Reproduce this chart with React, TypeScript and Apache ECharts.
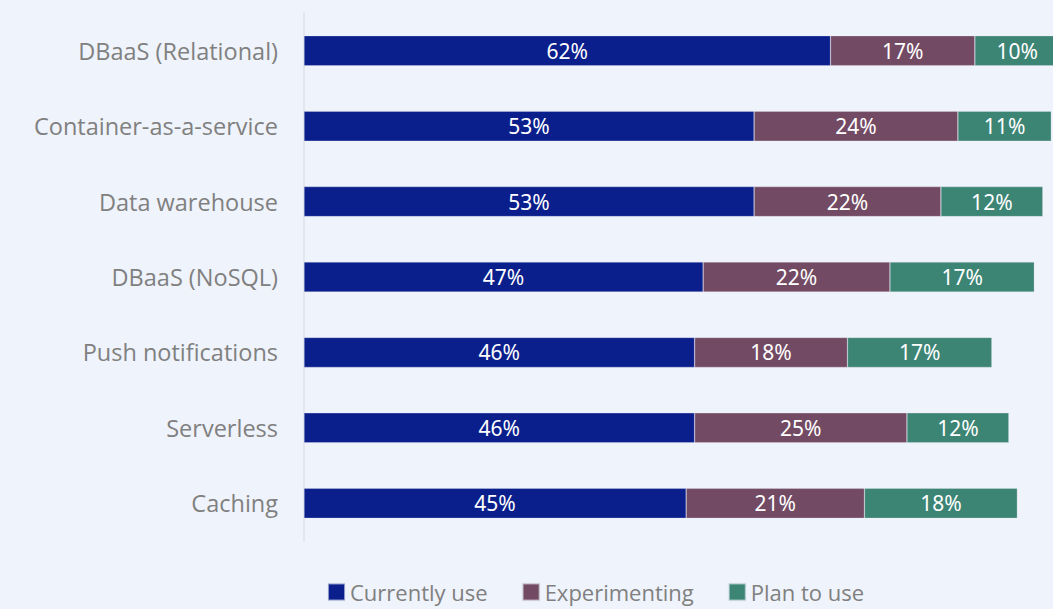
import React, { useEffect, useRef } from "react";
import * as echarts from "echarts";

const categories = [
  "DBaaS (Relational)",
  "Container-as-a-service",
  "Data warehouse",
  "DBaaS (NoSQL)",
  "Push notifications",
  "Serverless",
  "Caching",
];
const currentlyUse = [62, 53, 53, 47, 46, 46, 45];
const experimenting = [17, 24, 22, 22, 18, 25, 21];
const planToUse = [10, 11, 12, 17, 17, 12, 18];
const seriesNames = ["Currently use", "Experimenting", "Plan to use"];
const colors = ["#0a1e8c", "#734a63", "#3c8474"];

export default function App() {
  const ref = useRef<HTMLDivElement>(null);
  useEffect(() => {
    if (!ref.current) return;
    const chart = echarts.init(ref.current, null, { renderer: "svg" });
    const mk = (name: string, data: number[], color: string) => ({
      name,
      type: "bar",
      stack: "total",
      data,
      barWidth: 30,
      clip: false,
      itemStyle: { color, borderColor: "rgba(230,235,245,0.6)", borderWidth: 0.5 },
      label: {
        show: true,
        position: "inside",
        formatter: "{c}%",
        color: "#ffffff",
        fontSize: 21,
        fontFamily: "Noto Sans",
      },
    });
    chart.setOption({
      animation: false,
      backgroundColor: "#eff3fb",
      grid: { left: 304, right: 0, top: 13, bottom: 68 },
      legend: {
        top: 576,
        left: 322,
        itemWidth: 17,
        itemHeight: 17,
        itemGap: 34,
        icon: "rect",
        textStyle: {
          color: "#808080",
          fontSize: 22,
          lineHeight: 22,
          fontFamily: "Open Sans",
        },
        data: seriesNames,
      },
      xAxis: {
        type: "value",
        min: 0,
        max: 88.2,
        show: false,
      },
      yAxis: {
        type: "category",
        data: categories,
        inverse: true,
        axisLine: { show: true, lineStyle: { color: "#dfe2e8", width: 1.5 } },
        axisTick: { show: false },
        axisLabel: {
          color: "#808080",
          fontSize: 23.5,
          fontFamily: "Open Sans",
          margin: 26,
        },
      },
      series: [
        mk(seriesNames[0], currentlyUse, colors[0]),
        mk(seriesNames[1], experimenting, colors[1]),
        mk(seriesNames[2], planToUse, colors[2]),
      ],
    });
    return () => chart.dispose();
  }, []);
  return (
    <div
      ref={ref}
      style={{ position: "fixed", left: 0, top: 0, width: 1053, height: 609 }}
    />
  );
}
